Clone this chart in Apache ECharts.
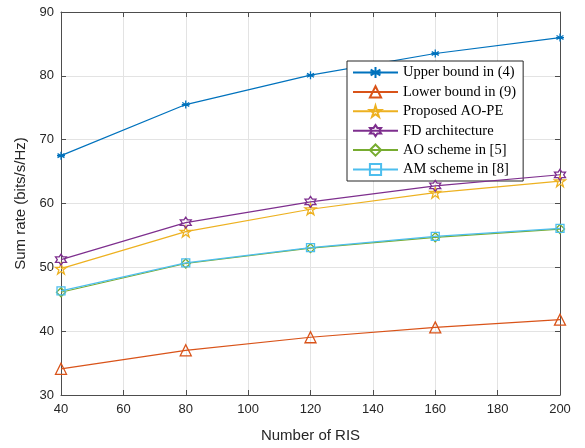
<!DOCTYPE html>
<html>
<head>
<meta charset="utf-8">
<script src="https://cdn.jsdelivr.net/npm/echarts@6/dist/echarts.min.js"></script>
<style>
  html, body { margin: 0; padding: 0; background: #fff; }
  #myChart { width: 585px; height: 448px; }
</style>
</head>
<body>
<div id="myChart"></div>
<script>
// data
var risNum = [40, 80, 120, 160, 200];
var upperBound = [67.5, 75.5, 80.1, 83.5, 86.0];
var lowerBound = [34.1, 37.0, 39.05, 40.6, 41.8];
var proposedAOPE = [49.8, 55.6, 59.1, 61.7, 63.5];
var fdArch = [51.2, 57.0, 60.25, 62.75, 64.5];
var aoScheme = [46.1, 50.6, 53.0, 54.7, 56.0];
var amScheme = [46.3, 50.7, 53.1, 54.85, 56.1];
var yTicks = [30, 40, 50, 60, 70, 80, 90];

var names = ["Upper bound in (4)", "Lower bound in (9)", "Proposed AO-PE",
  "FD architecture", "AO scheme in [5]", "AM scheme in [8]"];
var colors = ["#0072BD", "#D95319", "#EDB120", "#7E2F8E", "#77AC30", "#4DBEEE"];
var values = [upperBound, lowerBound, proposedAOPE, fdArch, aoScheme, amScheme];

// matlab-like markers
var asterisk = "path://M0,-1L0,1M-0.87,-0.5L0.87,0.5M-0.87,0.5L0.87,-0.5M-1,0L1,0";
var pentagram = "path://M0,-1L0.2245,-0.309L0.951,-0.309L0.363,0.118L0.588,0.809L0,0.382L-0.588,0.809L-0.363,0.118L-0.951,-0.309L-0.2245,-0.309Z";
var hexagram = "path://M0,-1L0.289,-0.5L0.866,-0.5L0.577,0L0.866,0.5L0.289,0.5L0,1L-0.289,0.5L-0.866,0.5L-0.577,0L-0.866,-0.5L-0.289,-0.5Z";
var symbols = [asterisk, "triangle", pentagram, hexagram, "diamond", "rect"];
var sizes = [8, 11, 11, 11, 9, 8];

var series = names.map(function (n, i) {
  return {
    name: n,
    type: "line",
    data: risNum.map(function (x, j) { return [x, values[i][j]]; }),
    symbol: symbols[i],
    symbolSize: sizes[i],
    showAllSymbol: true,
    lineStyle: { color: colors[i], width: 1.2 },
    itemStyle: { color: "rgba(255,255,255,0)", borderColor: colors[i], borderWidth: 1.3 },
    emphasis: { disabled: true },
    animation: false,
    z: 3 + i
  };
});

var axisFont = { fontFamily: "Liberation Sans", fontSize: 13, color: "#262626" };
var gridLine = { show: true, lineStyle: { color: "#e3e3e3", width: 1 } };
var frameLine = { show: true, onZero: false, lineStyle: { color: "#4d4d4d", width: 1 } };

var myChart = echarts.init(document.getElementById("myChart"), null, { renderer: "canvas" });
var option = {
  backgroundColor: "#fff",
  animation: false,
  grid: { left: 61, right: 25, top: 12, bottom: 51 },
  legend: {
    orient: "vertical",
    left: 347,
    top: 61,
    padding: [4, 7, 4, 5],
    itemWidth: 45,
    itemHeight: 14,
    itemGap: 4.4,
    backgroundColor: "#fff",
    borderColor: "#262626",
    borderWidth: 1,
    borderRadius: 0,
    textStyle: { fontFamily: "Liberation Serif", fontSize: 14.5, color: "#000" },
    data: names
  },
  xAxis: [{
    type: "value",
    min: 40, max: 200, interval: 20,
    name: "Number of RIS",
    nameLocation: "middle",
    nameGap: 33,
    nameTextStyle: { fontFamily: "Liberation Sans", fontSize: 15, color: "#262626" },
    axisLine: frameLine,
    axisTick: { show: true, inside: true, length: 5, lineStyle: { color: "#4d4d4d" } },
    axisLabel: Object.assign({ margin: 8 }, axisFont),
    splitLine: gridLine
  }, {
    type: "value",
    position: "top",
    min: 40, max: 200, interval: 20,
    axisLine: frameLine,
    axisTick: { show: true, inside: true, length: 5, lineStyle: { color: "#4d4d4d" } },
    axisLabel: { show: false },
    splitLine: { show: false }
  }],
  yAxis: [{
    type: "value",
    min: yTicks[0], max: yTicks[yTicks.length - 1], interval: 10,
    name: "Sum rate (bits/s/Hz)",
    nameLocation: "middle",
    nameGap: 27,
    nameTextStyle: { fontFamily: "Liberation Sans", fontSize: 15, color: "#262626" },
    axisLine: frameLine,
    axisTick: { show: true, inside: true, length: 5, lineStyle: { color: "#4d4d4d" } },
    axisLabel: Object.assign({ margin: 7 }, axisFont),
    splitLine: gridLine
  }, {
    type: "value",
    position: "right",
    min: yTicks[0], max: yTicks[yTicks.length - 1], interval: 10,
    axisLine: frameLine,
    axisTick: { show: true, inside: true, length: 5, lineStyle: { color: "#4d4d4d" } },
    axisLabel: { show: false },
    splitLine: { show: false }
  }],
  series: series
};
myChart.setOption(option);
</script>
</body>
</html>
